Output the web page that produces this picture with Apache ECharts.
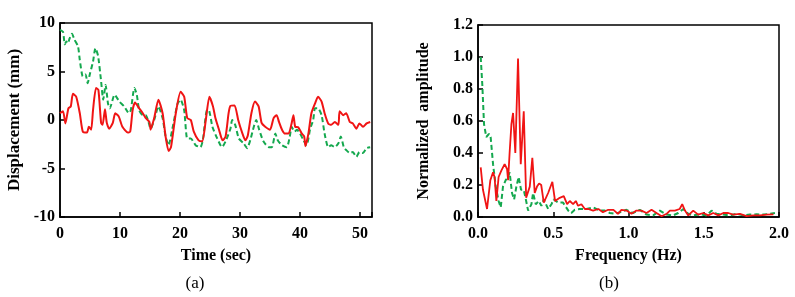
<!DOCTYPE html>
<html>
<head>
<meta charset="utf-8">
<script src="https://cdn.jsdelivr.net/npm/echarts@6/dist/echarts.min.js"></script>
<style>
  html, body { margin: 0; padding: 0; background: #fff; }
  #chart { width: 795px; height: 297px; }
</style>
</head>
<body>
<div id="chart"></div>
<script>
// (a) displacement time history
const timeRed = [0, 0.5, 0.9, 1.4, 1.8, 2.15, 2.7, 3.3, 3.8, 4.5, 4.8, 5.2, 5.5, 6.0, 6.4, 6.85, 7.1, 7.5, 7.8, 8.2, 8.8, 9.2, 9.8, 10.4, 11.3, 11.7, 12.1, 12.5, 13.2, 13.8, 14.3, 14.9, 15.1, 15.7, 16.4, 17.1, 17.6, 18.1, 18.5, 19.3, 20.1, 20.7, 21.2, 21.8, 22.3, 23.1, 23.7, 24.3, 24.9, 25.5, 25.9, 26.5, 27.1, 27.6, 28.1, 28.4, 29.1, 29.7, 30.3, 30.9, 31.3, 31.9, 32.5, 33.1, 33.6, 34.2, 35.0, 35.6, 36.1, 36.5, 37.0, 37.5, 38.1, 38.6, 38.9, 39.2, 39.7, 40.3, 40.7, 40.9, 41.4, 41.9, 42.5, 43.0, 43.6, 44.1, 44.7, 45.2, 45.8, 46.4, 46.6, 47.2, 47.7, 48.3, 48.8, 49.4, 49.9, 50.5, 51.1, 51.7];
const dispRed = [0.7, 0.9, -0.35, 1.2, 1.4, 2.7, 2.4, 0.7, -1.2, -1.3, -0.7, -1.0, 1.0, 3.3, 3.1, -0.3, -0.5, 1.1, -0.3, -0.9, -0.3, 0.7, 0.35, -0.7, -1.3, -1.2, 1.0, 1.8, 1.2, 0.7, 0.2, -0.2, -1.0, 0.2, 2.1, 0.7, -1.7, -3.2, -2.8, 0.7, 2.9, 2.4, 0.2, 0, -1.2, -2.1, -2.2, 0, 2.4, 1.4, 0.2, -1.0, -2.1, -1.7, 0.7, 1.45, 1.5, 0, -1.2, -2.1, -1.6, 0.7, 1.9, 1.4, -0.3, -0.7, -1.0, 0.2, 0.5, -0.2, -1.0, -1.4, -1.4, -0.35, 0.5, -0.7, -0.75, -1.4, -1.7, -2.7, -1.4, 0.7, 1.7, 2.4, 1.9, 0.7, -0.35, -0.5, -0.2, -0.5, 0.9, 0.5, 0.7, -0.2, -0.35, -0.9, -0.35, -0.7, -0.35, -0.2];
const timeGreen = [0, 0.5, 0.8, 1.05, 1.3, 1.6, 2.0, 2.4, 3.0, 3.3, 3.8, 4.25, 4.6, 5.0, 5.5, 5.9, 6.35, 6.85, 7.2, 7.6, 8.0, 8.3, 9.1, 9.9, 10.7, 11.5, 11.8, 12.4, 12.8, 13.2, 13.8, 14.3, 14.75, 15.1, 15.7, 16.4, 17.1, 17.6, 18.1, 18.7, 19.6, 20.1, 20.7, 21.2, 21.8, 22.6, 23.4, 23.8, 24.5, 24.8, 25.4, 26.2, 27.0, 27.6, 28.4, 28.7, 29.2, 29.8, 30.6, 31.2, 31.7, 32.3, 32.7, 33.2, 33.9, 34.8, 35.3, 35.9, 36.3, 37.0, 37.8, 38.3, 38.6, 39.1, 39.5, 40.0, 40.6, 41.1, 41.7, 42.2, 42.5, 43.0, 43.6, 44.1, 44.7, 45.2, 45.8, 46.4, 46.8, 47.3, 47.7, 48.3, 48.8, 49.4, 49.9, 50.5, 51.1, 51.7];
const dispGreen = [9.3, 9.1, 7.8, 8.1, 7.9, 8.4, 8.9, 8.3, 7.6, 6.2, 4.5, 4.7, 3.8, 4.8, 6.0, 7.4, 6.6, 4.0, 2.1, 3.6, 1.7, 1.2, 2.6, 1.9, 1.4, 0.7, 1.0, 3.3, 2.6, 1.0, 0.5, 0.5, -0.2, -0.9, 0, 1.4, 0.2, -1.7, -2.6, -1.0, 1.7, 2.1, 1.0, -1.9, -1.9, -2.6, -2.8, -2.1, 1.0, 1.0, -0.7, -1.9, -2.8, -2.2, -0.9, 0, -0.5, -1.9, -2.4, -2.9, -2.1, -0.7, 0, -1.0, -2.2, -2.8, -2.8, -1.4, -2.1, -2.6, -2.8, -1.7, -0.7, -1.2, -1.0, -1.4, -2.1, -2.6, -0.9, 0, 1.2, 1.2, 0.5, -1.4, -2.8, -2.6, -2.8, -2.4, -1.7, -2.8, -3.1, -3.4, -3.3, -3.8, -3.3, -3.4, -2.9, -2.8];

// (b) normalized Fourier amplitude
const freqRed = [0.018, 0.033, 0.06, 0.082, 0.10, 0.11, 0.122, 0.137, 0.155, 0.177, 0.193, 0.20, 0.21, 0.222, 0.233, 0.248, 0.266, 0.284, 0.304, 0.32, 0.344, 0.361, 0.377, 0.392, 0.406, 0.42, 0.437, 0.466, 0.494, 0.512, 0.543, 0.57, 0.592, 0.61, 0.632, 0.65, 0.665, 0.687, 0.71, 0.732, 0.765, 0.8, 0.83, 0.865, 0.9, 0.93, 0.953, 0.987, 1.02, 1.053, 1.086, 1.12, 1.153, 1.186, 1.22, 1.253, 1.275, 1.308, 1.34, 1.357, 1.375, 1.397, 1.43, 1.463, 1.497, 1.53, 1.563, 1.597, 1.63, 1.663, 1.696, 1.74, 1.785, 1.83, 1.874, 1.918, 1.963];
const ampRed = [0.31, 0.17, 0.05, 0.23, 0.28, 0.25, 0.10, 0.25, 0.29, 0.33, 0.30, 0.23, 0.40, 0.58, 0.65, 0.40, 0.99, 0.33, 0.66, 0.12, 0.19, 0.37, 0.15, 0.19, 0.21, 0.20, 0.09, 0.15, 0.22, 0.10, 0.12, 0.13, 0.08, 0.10, 0.08, 0.10, 0.07, 0.08, 0.05, 0.05, 0.04, 0.05, 0.03, 0.045, 0.045, 0.02, 0.045, 0.04, 0.02, 0.04, 0.04, 0.025, 0.045, 0.025, 0.005, 0.02, 0.04, 0.04, 0.05, 0.08, 0.04, 0.01, 0.04, 0.015, 0.025, 0.01, 0.025, 0.01, 0.025, 0.025, 0.015, 0.02, 0.005, 0.01, 0.01, 0.015, 0.017];
const freqGreen = [0.018, 0.029, 0.04, 0.055, 0.073, 0.084, 0.10, 0.118, 0.137, 0.151, 0.166, 0.184, 0.20, 0.21, 0.226, 0.24, 0.255, 0.27, 0.286, 0.304, 0.32, 0.333, 0.355, 0.366, 0.384, 0.404, 0.421, 0.437, 0.466, 0.488, 0.503, 0.532, 0.565, 0.6, 0.62, 0.643, 0.676, 0.72, 0.765, 0.81, 0.843, 0.876, 0.91, 0.943, 0.987, 1.03, 1.075, 1.12, 1.164, 1.208, 1.253, 1.297, 1.33, 1.364, 1.397, 1.43, 1.474, 1.52, 1.552, 1.585, 1.63, 1.674, 1.718, 1.763, 1.807, 1.852, 1.896, 1.94, 1.973];
const ampGreen = [1.0, 0.82, 0.58, 0.50, 0.52, 0.50, 0.33, 0.19, 0.10, 0.06, 0.19, 0.23, 0.25, 0.28, 0.15, 0.11, 0.19, 0.25, 0.17, 0.17, 0.10, 0.04, 0.08, 0.15, 0.08, 0.10, 0.07, 0.11, 0.05, 0.08, 0.11, 0.09, 0.09, 0.04, 0.025, 0.045, 0.05, 0.05, 0.06, 0.04, 0.04, 0.025, 0.02, 0.03, 0.045, 0.025, 0.045, 0.015, 0.01, 0.04, 0.015, 0.01, 0.025, 0.05, 0.02, 0.01, 0.017, 0.01, 0.04, 0.02, 0.015, 0.01, 0.02, 0.01, 0.015, 0.017, 0.015, 0.02, 0.025];

const pairs = (xs, ys) => xs.map((x, i) => [x, ys[i]]);

const FONT = 'Liberation Serif';
const RED = '#f01414';
const GREEN = '#14a84e';

const labelStyle = { color: '#000', fontFamily: FONT, fontWeight: 'bold', fontSize: 16 };
const nameStyle = { color: '#000', fontFamily: FONT, fontWeight: 'bold', fontSize: 16 };
const lineAxis = { show: true, onZero: false, lineStyle: { color: '#000', width: 1.5 } };
const tickIn = { show: true, inside: true, length: 5, lineStyle: { color: '#000', width: 1.5 } };

const myChart = echarts.init(document.getElementById('chart'), null, { renderer: 'canvas' });

const option = {
    animation: false,
    backgroundColor: '#fff',
    title: [
        { text: '(a)', left: 190, top: 279, textAlign: 'center', textVerticalAlign: 'middle',
          textStyle: { fontFamily: FONT, fontWeight: 'normal', fontSize: 17, color: '#000' } },
        { text: '(b)', left: 604, top: 279, textAlign: 'center', textVerticalAlign: 'middle',
          textStyle: { fontFamily: FONT, fontWeight: 'normal', fontSize: 17, color: '#000' } }
    ],
    grid: [
        { left: 60, top: 23, width: 312, height: 194, show: true, borderColor: '#000', borderWidth: 1.5 },
        { left: 478, top: 25, width: 301, height: 192, show: true, borderColor: '#000', borderWidth: 1.5 }
    ],
    xAxis: [{
        gridIndex: 0, type: 'value', min: 0, max: 52, interval: 10,
        name: 'Time (sec)', nameLocation: 'middle', nameGap: 31, nameTextStyle: nameStyle,
        axisLine: lineAxis, axisTick: tickIn, splitLine: { show: false },
        axisLabel: Object.assign({ margin: 9, formatter: v => (v % 10 === 0 ? String(v) : '') }, labelStyle)
    }, {
        gridIndex: 1, type: 'value', min: 0, max: 2, interval: 0.5,
        name: 'Frequency (Hz)', nameLocation: 'middle', nameGap: 31, nameTextStyle: nameStyle,
        axisLine: lineAxis, axisTick: tickIn, splitLine: { show: false },
        axisLabel: Object.assign({ margin: 9, formatter: v => v.toFixed(1) }, labelStyle)
    }],
    yAxis: [{
        gridIndex: 0, type: 'value', min: -10, max: 10, interval: 5,
        name: 'Displacement (mm)', nameLocation: 'middle', nameGap: 37,
        nameTextStyle: Object.assign({}, nameStyle, { fontSize: 17 }),
        axisLine: lineAxis, axisTick: tickIn, splitLine: { show: false },
        axisLabel: Object.assign({ margin: 5 }, labelStyle)
    }, {
        gridIndex: 1, type: 'value', min: 0, max: 1.2, interval: 0.2,
        name: 'Normalized  amplitude', nameLocation: 'middle', nameGap: 46, nameTextStyle: nameStyle,
        axisLine: lineAxis, axisTick: tickIn, splitLine: { show: false },
        axisLabel: Object.assign({ margin: 5, formatter: v => v.toFixed(1) }, labelStyle)
    }],
    series: [{
        type: 'line', xAxisIndex: 0, yAxisIndex: 0, symbol: 'none', smooth: 0.2,
        data: pairs(timeGreen, dispGreen),
        lineStyle: { color: GREEN, width: 2, type: [5, 3] }
    }, {
        type: 'line', xAxisIndex: 0, yAxisIndex: 0, symbol: 'none', smooth: 0.2,
        data: pairs(timeRed, dispRed),
        lineStyle: { color: RED, width: 2 }
    }, {
        type: 'line', xAxisIndex: 1, yAxisIndex: 1, symbol: 'none',
        data: pairs(freqGreen, ampGreen),
        lineStyle: { color: GREEN, width: 2, type: [5, 3] }
    }, {
        type: 'line', xAxisIndex: 1, yAxisIndex: 1, symbol: 'none',
        data: pairs(freqRed, ampRed),
        lineStyle: { color: RED, width: 1.8 }
    }]
};

myChart.setOption(option);
</script>
</body>
</html>
